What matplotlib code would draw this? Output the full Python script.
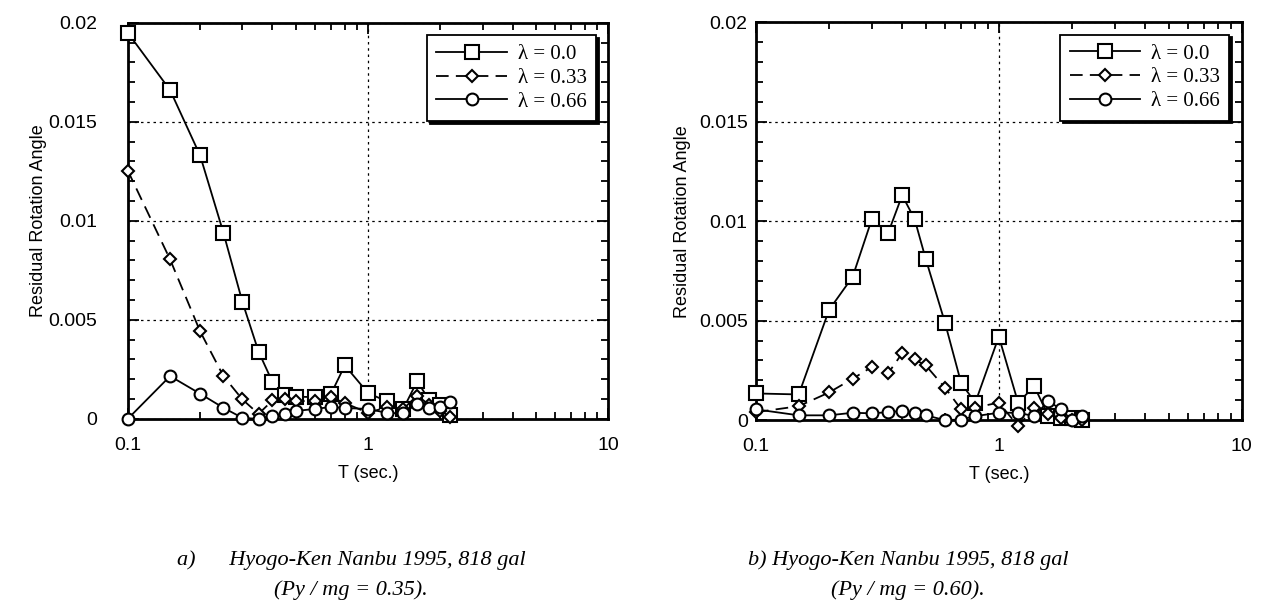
import matplotlib.pyplot as plt
from matplotlib.ticker import FixedLocator, MultipleLocator, LogLocator, NullFormatter

# periods (sec.)
T = [0.1, 0.15, 0.2, 0.25, 0.3, 0.35, 0.4, 0.45, 0.5, 0.6, 0.7, 0.8,
     1.0, 1.2, 1.4, 1.6, 1.8, 2.0, 2.2]

# a) Py/mg = 0.35
a_lam00 = [0.0195, 0.0166, 0.0133, 0.0094, 0.0059, 0.0034, 0.00186, 0.0012, 0.00112,
           0.0011, 0.00125, 0.0027, 0.0013, 0.00088, 0.0005, 0.0019, 0.00093, 0.0007, 0.0002]
a_lam33 = [0.01254, 0.00805, 0.00442, 0.00216, 0.00098, 0.00025, 0.00093, 0.001, 0.0009,
           0.0009, 0.0011, 0.0008, 0.0003, 0.0006, 0.0005, 0.00118, 0.0007, 0.0004, 0.0001]
a_lam66 = [0.0, 0.00216, 0.00127, 0.00056, 0.00005, 0.0, 0.00017, 0.00025, 0.0004,
           0.0005, 0.0006, 0.00055, 0.0005, 0.0003, 0.00028, 0.00076, 0.00056, 0.0006, 0.00084]

# b) Py/mg = 0.60
b_lam00 = [0.00134, 0.00129, 0.00554, 0.0072, 0.0101, 0.0094, 0.0113, 0.0101, 0.0081,
           0.0049, 0.00185, 0.00088, 0.0042, 0.00088, 0.0017, 0.0002, 0.0001, 0.0001, 0.0]
b_lam33 = [0.0004, 0.0007, 0.00139, 0.00208, 0.00267, 0.00235, 0.00336, 0.00305, 0.00275,
           0.00163, 0.00054, 0.00063, 0.00088, -0.0003, 0.00063, 0.0003, 0.0001, 0.0, 0.0]
b_lam66 = [0.00054, 0.00024, 0.00024, 0.00037, 0.00034, 0.0004, 0.00046, 0.00037, 0.00024,
           0.0, 0.00003, 0.0002, 0.00037, 0.00037, 0.0002, 0.00096, 0.00054, 0.0, 0.0002]

labels = ["λ = 0.0", "λ = 0.33", "λ = 0.66"]
captions_a = ["a)      Hyogo-Ken Nanbu 1995, 818 gal", "(Py / mg = 0.35)."]
captions_b = ["b) Hyogo-Ken Nanbu 1995, 818 gal", "(Py / mg = 0.60)."]

plt.rcParams["font.family"] = "Liberation Sans"

fig = plt.figure(figsize=(12.65, 6.16), dpi=100)
ax1 = fig.add_axes([0.101, 0.320, 0.380, 0.643])
ax2 = fig.add_axes([0.5976, 0.318, 0.384, 0.646])


def draw(ax, y0, y1, y2, caption, cx, ypad, ylpad):
    kw = dict(color="black", lw=1.3, markerfacecolor="white", markeredgecolor="black",
              markeredgewidth=1.5, clip_on=False, zorder=3)
    ax.plot(T, y0, marker="s", ms=9.5, ls="-", label=labels[0], **kw)
    ax.plot(T, y1, marker="D", ms=6.5, ls=(0, (7, 4)), label=labels[1], **kw)
    ax.plot(T, y2, marker="o", ms=8.5, ls="-", label=labels[2], **kw)

    ax.set_xscale("log")
    ax.set_xlim(0.1, 10)
    ax.set_ylim(0, 0.02)
    ax.xaxis.set_major_locator(FixedLocator([0.1, 1, 10]))
    ax.set_xticklabels(["0.1", "1", "10"])
    ax.xaxis.set_minor_locator(LogLocator(base=10, subs=range(2, 10)))
    ax.xaxis.set_minor_formatter(NullFormatter())
    ax.set_yticks([0, 0.005, 0.01, 0.015, 0.02])
    ax.set_yticklabels(["0", "0.005", "0.01", "0.015", "0.02"])
    ax.yaxis.set_minor_locator(MultipleLocator(0.001))
    ax.tick_params(which="both", direction="in", top=True, right=True, labelsize=14,
                   width=1.3)
    ax.tick_params(which="major", length=8)
    ax.tick_params(which="minor", length=5)
    ax.tick_params(axis="x", which="major", pad=13)
    ax.tick_params(axis="y", which="major", pad=ypad)
    for s in ax.spines.values():
        s.set_linewidth(2)
    ax.grid(True, which="major", color="black", ls=(0, (2, 3)), lw=0.9)

    ax.set_xlabel("T (sec.)", fontsize=13, labelpad=8)
    ax.set_ylabel("Residual Rotation Angle", fontsize=13, labelpad=ylpad)

    leg = ax.legend(loc="upper right", fancybox=False,
                    shadow={"color": "black", "alpha": 1}, edgecolor="black",
                    framealpha=1, prop={"family": "Liberation Serif", "size": 15},
                    handlelength=3.4, borderpad=0.45, labelspacing=0.2,
                    handletextpad=0.5, borderaxespad=0.6)
    leg.get_frame().set_linewidth(1.3)

    fig.text(cx, 1 - 560 / 616, caption[0], ha="center", va="center",
             family="Liberation Serif", style="italic", fontsize=16)
    fig.text(cx, 1 - 590 / 616, caption[1], ha="center", va="center",
             family="Liberation Serif", style="italic", fontsize=16)


draw(ax1, a_lam00, a_lam33, a_lam66, captions_a, 351 / 1265, 22, 1)
draw(ax2, b_lam00, b_lam33, b_lam66, captions_b, 908 / 1265, 6, 5.5)

fig.savefig("out.png", dpi=100)
